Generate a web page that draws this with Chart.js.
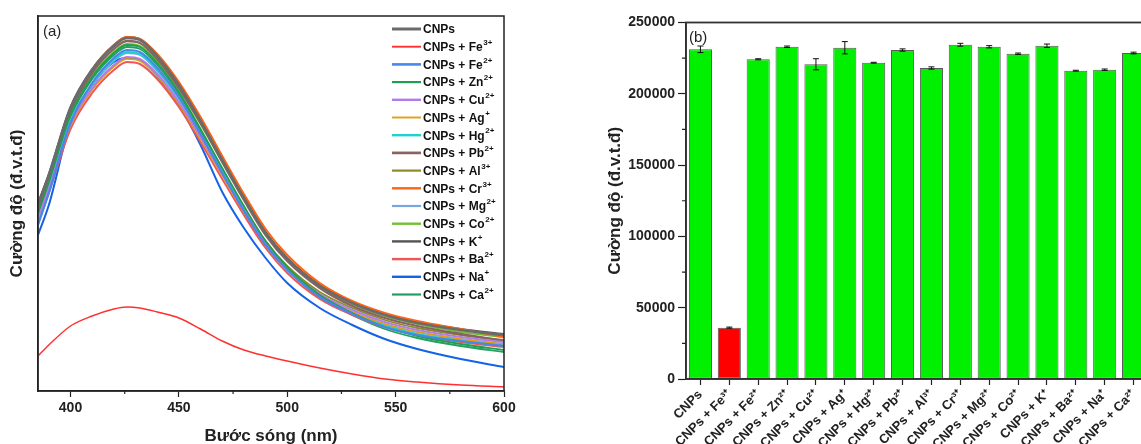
<!DOCTYPE html>
<html>
<head>
<meta charset="utf-8">
<script src="https://cdn.jsdelivr.net/npm/chart.js@4.4.1/dist/chart.umd.min.js"></script>
<style>
  body { margin: 0; width: 1141px; height: 444px; overflow: hidden; position: relative; background: #fff; }
  .panel { position: absolute; top: 0; height: 452px; }
</style>
</head>
<body>
<div class="panel" style="left:0;width:540px"><canvas id="spectraChart"></canvas></div>
<div class="panel" style="left:560px;width:600px"><canvas id="barChart"></canvas></div>
<script>
// ion added to the CNPs solution, and its charge (drawn as superscript)
const ionNames   = ['', 'Fe', 'Fe', 'Zn', 'Cu', 'Ag', 'Hg', 'Pb', 'Al', 'Cr', 'Mg', 'Co', 'K', 'Ba', 'Na', 'Ca'];
const ionCharges = ['', '3+', '2+', '2+', '2+', '+', '2+', '2+', '3+', '3+', '2+', '2+', '+', '2+', '+', '2+'];

// (a) emission spectra, wavelength in nm, intensity in a.u. (x1000)
const wavelengths = [385, 390, 400, 410, 420, 426, 432, 440, 450, 460, 470, 480, 490, 500, 515, 530, 545, 560, 580, 600];
const specCNPs = [186, 216, 283, 321, 345, 353, 351, 335, 306, 270, 231, 193, 158, 132, 105, 88, 76, 68, 61, 56];
const specFe3  = [35, 46, 65, 75, 82, 84, 83, 79, 73, 62, 50, 41, 35, 30, 23, 17, 12, 9, 6, 4];
const specFe2  = [166, 198, 268, 308, 333, 341, 339, 323, 294, 257, 218, 180, 146, 121, 94, 77, 64, 56, 50, 45];
const specZn   = [178, 209, 276, 314, 338, 346, 344, 328, 299, 262, 223, 185, 150, 124, 96, 78, 64, 55, 47, 41];
const specCu   = [174, 203, 267, 303, 326, 334, 332, 317, 289, 254, 217, 181, 148, 123, 97, 81, 69, 61, 54, 49];
const specAg   = [173, 202, 265, 301, 324, 332, 330, 315, 287, 252, 215, 179, 146, 121, 95, 79, 67, 59, 52, 47];
const specHg   = [172, 203, 270, 307, 331, 339, 337, 321, 293, 257, 219, 182, 148, 122, 95, 78, 66, 57, 51, 46];
const specPb   = [182, 212, 279, 318, 342, 350, 348, 332, 303, 268, 229, 191, 156, 130, 103, 85, 73, 65, 57, 50];
const specAl   = [175, 204, 266, 302, 325, 333, 331, 316, 288, 254, 218, 183, 150, 125, 99, 83, 71, 63, 56, 51];
const specCr   = [184, 214, 282, 321, 346, 354, 352, 337, 309, 274, 235, 197, 162, 136, 108, 90, 78, 70, 62, 54];
const specMg   = [170, 201, 268, 306, 330, 338, 336, 320, 292, 257, 220, 183, 149, 123, 96, 79, 67, 59, 52, 47];
const specCo   = [180, 210, 277, 315, 339, 347, 345, 330, 302, 267, 229, 192, 157, 131, 104, 87, 75, 67, 59, 54];
const specK    = [188, 217, 284, 322, 346, 354, 352, 336, 307, 271, 232, 194, 159, 133, 106, 89, 77, 69, 62, 57];
const specBa   = [168, 198, 262, 298, 321, 329, 327, 312, 284, 249, 212, 176, 143, 118, 92, 76, 64, 56, 49, 44];
const specNa   = [156, 186, 268, 306, 329, 333, 331, 315, 286, 246, 199, 163, 133, 108, 83, 66, 52, 42, 32, 24];
const specCa   = [176, 207, 274, 312, 336, 344, 342, 326, 297, 260, 221, 183, 148, 122, 94, 76, 62, 53, 45, 39];
const spectra = [specCNPs, specFe3, specFe2, specZn, specCu, specAg, specHg, specPb,
                 specAl, specCr, specMg, specCo, specK, specBa, specNa, specCa];
const xTicksA = [400, 450, 500, 550, 600];
const xMinorA = [425, 475, 525, 575];

// (b) intensity at the emission maximum, with error bars
const barValues = [231200, 36000, 224200, 233000, 220700, 232300, 221800, 230700,
                   218100, 234400, 233000, 228100, 233700, 216200, 216900, 228600];
const barErrors = [2300, 400, 400, 500, 3900, 4300, 300, 800,
                   800, 1000, 800, 500, 1200, 300, 500, 600];
const yTicksB = [0, 50000, 100000, 150000, 200000, 250000];
const yMinorB = [25000, 75000, 125000, 175000, 225000];

const lineColors = ['#6b6b6b', '#ff3030', '#4a86e8', '#1f9e52', '#b07de8', '#e0a010', '#22d0d0', '#8b6262',
                    '#8c8c22', '#ff6414', '#78a6e0', '#72c032', '#555555', '#f05656', '#1462e6', '#22a062'];
const lineWidths = [2.6, 1.5, 2.2, 1.8, 2, 1.5, 2, 2.3, 1.8, 2, 1.8, 2, 2, 2, 2, 1.8];

const FONT = "'Liberation Sans', Arial, sans-serif";
Chart.defaults.font.family = FONT;
Chart.defaults.color = '#222';

const supMap = { '2': '\u00b2', '3': '\u00b3', '+': '\u207a' };
function baseLabel(i) {
    return ionNames[i] ? 'CNPs + ' + ionNames[i] : 'CNPs';
}
function unicodeLabel(i) {
    return baseLabel(i) + ionCharges[i].split('').map(c => supMap[c]).join('');
}

// box around the plot area
const frame = {
    id: 'frame',
    afterDraw(chart, args, opts) {
        const { ctx, chartArea: a } = chart;
        ctx.save();
        ctx.strokeStyle = opts.color;
        ctx.lineWidth = opts.width;
        ctx.strokeRect(a.left, a.top, a.right - a.left, a.bottom - a.top);
        ctx.restore();
    }
};

// short ticks between the labelled ones
const minorTicks = {
    id: 'minorTicks',
    afterDraw(chart, args, opts) {
        const scale = chart.scales[opts.axis];
        const ctx = chart.ctx;
        ctx.save();
        ctx.strokeStyle = '#222';
        ctx.lineWidth = 1.2;
        ctx.beginPath();
        for (let v of opts.values) {
            const p = scale.getPixelForValue(v);
            if (scale.isHorizontal()) {
                ctx.moveTo(p, scale.top);
                ctx.lineTo(p, scale.top + opts.length);
            } else {
                ctx.moveTo(scale.right, p);
                ctx.lineTo(scale.right - opts.length, p);
            }
        }
        ctx.stroke();
        ctx.restore();
    }
};

// (a) / (b) panel letters
const panelTag = {
    id: 'panelTag',
    afterDraw(chart, args, opts) {
        const { ctx, chartArea: a } = chart;
        ctx.save();
        ctx.font = '15px ' + FONT;
        ctx.fillStyle = '#222';
        ctx.textBaseline = 'alphabetic';
        ctx.fillText(opts.text, a.left + opts.dx, a.top + opts.dy);
        ctx.restore();
    }
};

// legend inside the spectra plot, with real superscripts
const spectraLegend = {
    id: 'spectraLegend',
    afterDraw(chart, args, opts) {
        const { ctx, chartArea: a } = chart;
        const x0 = a.right - opts.right;
        ctx.save();
        ctx.textBaseline = 'middle';
        ctx.fillStyle = '#111';
        chart.data.datasets.forEach((ds, i) => {
            const y = a.top + opts.top + i * opts.row;
            ctx.strokeStyle = ds.borderColor;
            ctx.lineWidth = ds.borderWidth + 0.4;
            ctx.beginPath();
            ctx.moveTo(x0, y);
            ctx.lineTo(x0 + 29, y);
            ctx.stroke();
            ctx.font = 'bold 12px ' + FONT;
            const base = baseLabel(i);
            ctx.fillText(base, x0 + 31, y + 1);
            if (ionCharges[i]) {
                const w = ctx.measureText(base).width;
                ctx.font = 'bold 8px ' + FONT;
                ctx.fillText(ionCharges[i], x0 + 31 + w + 0.5, y - 4);
            }
        });
        ctx.restore();
    }
};

// error bars on top of the columns
const errorBars = {
    id: 'errorBars',
    afterDatasetsDraw(chart) {
        const { ctx } = chart;
        const yScale = chart.scales.y;
        const ds = chart.data.datasets[0];
        const meta = chart.getDatasetMeta(0);
        ctx.save();
        ctx.strokeStyle = '#111';
        ctx.lineWidth = 1;
        meta.data.forEach((bar, i) => {
            const hi = yScale.getPixelForValue(ds.data[i] + ds.errors[i]);
            const lo = yScale.getPixelForValue(ds.data[i] - ds.errors[i]);
            ctx.beginPath();
            ctx.moveTo(bar.x, hi); ctx.lineTo(bar.x, lo);
            ctx.moveTo(bar.x - 3, hi); ctx.lineTo(bar.x + 3, hi);
            ctx.moveTo(bar.x - 3, lo); ctx.lineTo(bar.x + 3, lo);
            ctx.stroke();
        });
        ctx.restore();
    }
};

const axisBorder = { color: '#222', width: 1.5 };

let spectraChart = new Chart(document.getElementById('spectraChart'), {
    type: 'line',
    data: {
        datasets: spectra.map((arr, i) => ({
            label: unicodeLabel(i),
            data: wavelengths.map((w, j) => ({ x: w, y: arr[j] })),
            borderColor: lineColors[i],
            borderWidth: lineWidths[i],
            pointRadius: 0,
            cubicInterpolationMode: 'monotone',
            fill: false
        }))
    },
    options: {
        responsive: true,
        maintainAspectRatio: false,
        animation: false,
        layout: { padding: { top: 16, right: 36, left: 0, bottom: 0 } },
        plugins: {
            legend: { display: false },
            tooltip: { enabled: false },
            frame: { color: '#222', width: 1.5 },
            minorTicks: { axis: 'x', values: xMinorA, length: 3 },
            panelTag: { text: '(a)', dx: 5, dy: 20 },
            spectraLegend: { right: 112, top: 13, row: 17.7 }
        },
        scales: {
            x: {
                type: 'linear',
                min: 385,
                max: 600,
                afterBuildTicks: scale => { scale.ticks = xTicksA.map(v => ({ value: v })); },
                afterFit: scale => { scale.height = 61; },
                border: axisBorder,
                grid: { drawOnChartArea: false, tickLength: 6, tickColor: '#222', tickWidth: 1.2 },
                ticks: { autoSkip: false, maxRotation: 0, padding: 3, color: '#222',
                         font: { size: 14, weight: 'bold' } },
                title: { display: true, text: 'Bước sóng (nm)', color: '#222',
                         font: { size: 17, weight: 'bold' }, padding: { top: 0, bottom: 5 } }
            },
            y: {
                min: 0,
                max: 375,
                afterFit: scale => { scale.width = 38; },
                border: axisBorder,
                grid: { display: false },
                ticks: { display: false },
                title: { display: true, text: 'Cường độ (đ.v.t.đ)', color: '#222',
                         font: { size: 17, weight: 'bold' }, padding: { top: 7, bottom: 0 } }
            }
        }
    },
    plugins: [frame, minorTicks, panelTag, spectraLegend]
});

let barChart = new Chart(document.getElementById('barChart'), {
    type: 'bar',
    data: {
        labels: ionNames.map((n, i) => unicodeLabel(i)),
        datasets: [{
            data: barValues,
            errors: barErrors,
            backgroundColor: barValues.map((v, i) => i === 1 ? '#ff0000' : '#00f000'),
            borderColor: '#5a5a5a',
            borderWidth: 1,
            borderSkipped: false,
            barPercentage: 0.8,
            categoryPercentage: 1
        }]
    },
    options: {
        responsive: true,
        maintainAspectRatio: false,
        animation: false,
        layout: { padding: { top: 22.5, right: 12, left: 0, bottom: 0 } },
        plugins: {
            legend: { display: false },
            tooltip: { enabled: false },
            frame: { color: '#333', width: 1.8 },
            minorTicks: { axis: 'y', values: yMinorB, length: 4 },
            panelTag: { text: '(b)', dx: 3, dy: 19 }
        },
        scales: {
            x: {
                afterFit: scale => { scale.height = 73; },
                border: axisBorder,
                grid: { drawOnChartArea: false, offset: false, tickLength: 6, tickColor: '#222', tickWidth: 1.2 },
                ticks: { autoSkip: false, minRotation: 45, maxRotation: 45, padding: 2, color: '#222',
                         font: { size: 13, weight: 'bold' } }
            },
            y: {
                min: 0,
                max: 250000,
                afterBuildTicks: scale => { scale.ticks = yTicksB.map(v => ({ value: v })); },
                afterFit: scale => { scale.width = 126; },
                border: axisBorder,
                grid: { drawOnChartArea: false, tickLength: 8, tickColor: '#222', tickWidth: 1.2 },
                ticks: { padding: 3, color: '#222', font: { size: 14, weight: 'bold' },
                         callback: v => String(v) },
                title: { display: true, text: 'Cường độ (đ.v.t.đ)', color: '#222',
                         font: { size: 17, weight: 'bold' }, padding: { top: 45, bottom: 0 } }
            }
        }
    },
    plugins: [frame, minorTicks, panelTag, errorBars]
});
</script>
</body>
</html>
